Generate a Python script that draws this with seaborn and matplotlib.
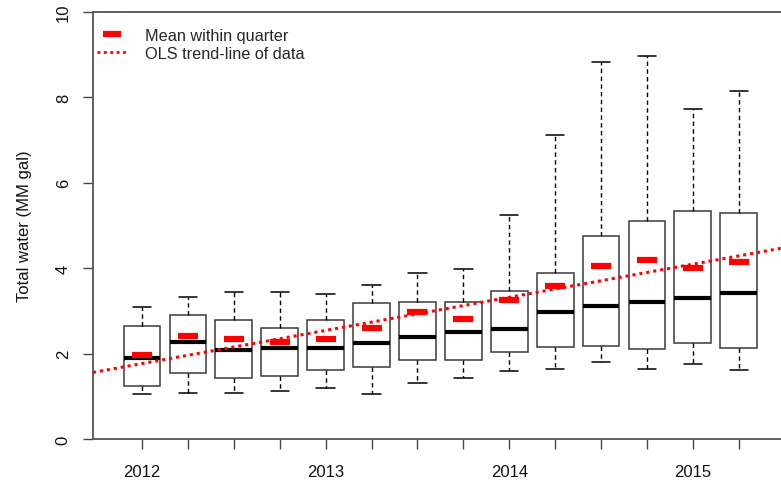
import matplotlib
matplotlib.use("Agg")
import matplotlib.pyplot as plt
from matplotlib.lines import Line2D
import numpy as np
import pandas as pd
import seaborn as sns

# Quarterly summary of total water use (MM gal)
quarters = ["2012Q1", "2012Q2", "2012Q3", "2012Q4",
            "2013Q1", "2013Q2", "2013Q3", "2013Q4",
            "2014Q1", "2014Q2", "2014Q3", "2014Q4",
            "2015Q1", "2015Q2"]
whisker_lo = [1.05, 1.08, 1.07, 1.13, 1.20, 1.05, 1.30, 1.43, 1.60, 1.64, 1.80, 1.64, 1.76, 1.62]
q1 = [1.23, 1.54, 1.43, 1.48, 1.62, 1.68, 1.85, 1.85, 2.03, 2.16, 2.17, 2.11, 2.25, 2.12]
median = [1.89, 2.28, 2.09, 2.12, 2.13, 2.24, 2.39, 2.50, 2.58, 2.98, 3.12, 3.22, 3.30, 3.42]
q3 = [2.64, 2.90, 2.79, 2.60, 2.79, 3.18, 3.22, 3.22, 3.47, 3.89, 4.75, 5.10, 5.34, 5.29]
whisker_hi = [3.10, 3.33, 3.45, 3.45, 3.40, 3.61, 3.89, 3.98, 5.25, 7.12, 8.84, 8.98, 7.74, 8.14]
means = [1.97, 2.42, 2.34, 2.26, 2.34, 2.59, 2.97, 2.81, 3.26, 3.59, 4.04, 4.20, 4.00, 4.15]

# OLS trend fitted over the quarter index (0 = 2012Q1)
ols_intercept = 1.766
ols_slope = 0.194

year_labels = {0: "2012", 4: "2013", 8: "2014", 12: "2015"}

sns.set_theme(style="white")
plt.rcParams["font.family"] = ["Liberation Sans", "DejaVu Sans"]

# Five-number summary per quarter as long-form data
rows = []
for i, q in enumerate(quarters):
    for v in (whisker_lo[i], q1[i], median[i], q3[i], whisker_hi[i]):
        rows.append({"quarter": q, "water": v})
df = pd.DataFrame(rows)

fig = plt.figure(figsize=(7.81, 4.85), dpi=100)
ax = fig.add_axes([93 / 781, 45 / 485, 688 / 781, 427 / 485])

edge = "#3a3a3a"
dotted = (0, (1.0, 1.3))
sns.boxplot(
    data=df, x="quarter", y="water", order=quarters, ax=ax,
    color="white", saturation=1, width=0.8, whis=(0, 100),
    linecolor=edge, linewidth=1.1, showfliers=False,
    whiskerprops=dict(linestyle=(0, (3.2, 2.4)), color="black", linewidth=1.0),
    capprops=dict(color="black", linewidth=1.1),
    medianprops=dict(color="black", linewidth=3.0),
    boxprops=dict(edgecolor=edge, linewidth=1.1),
)

sns.pointplot(
    x=quarters, y=means, order=quarters, ax=ax, color="red",
    marker="_", markersize=14, markeredgewidth=4.5,
    linestyle="none", errorbar=None, zorder=5,
)

ax.axline((0, ols_intercept), slope=ols_slope, color="red",
          linestyle=dotted, linewidth=2.2, zorder=4)

ax.set_xlim(-1.067, 13.92)
ax.set_ylim(0, 10)
ax.set_xlabel("")
ax.set_ylabel("Total water (MM gal)", fontsize=12, color="#111111", labelpad=17)

ax.set_xticks(range(len(quarters)))
ax.set_xticklabels([year_labels.get(i, "") for i in range(len(quarters))])
ax.set_yticks([0, 2, 4, 6, 8, 10])
ax.set_yticklabels(["0", "2", "4", "6", "8", "10"], rotation=90, va="center")

ax.tick_params(axis="both", which="both", direction="out", length=7, width=1.0,
               color="#444444", labelsize=12, labelcolor="#111111")
ax.tick_params(axis="x", pad=11, bottom=True)
ax.tick_params(axis="y", pad=9, left=True)

for side in ("left", "top", "bottom"):
    ax.spines[side].set_visible(True)
    ax.spines[side].set_color("#555555")
    ax.spines[side].set_linewidth(1.3)
ax.spines["right"].set_visible(False)

handles = [
    Line2D([0], [0], color="red", marker="_", markersize=13, markeredgewidth=4.5,
           linestyle="none"),
    Line2D([0], [0], color="red", linewidth=2, linestyle=dotted),
]
ax.legend(handles, ["Mean within quarter", "OLS trend-line of data"],
          loc="upper left", frameon=False, fontsize=11.7,
          handlelength=1.85, handletextpad=1.1, labelspacing=0.2,
          bbox_to_anchor=(-0.004, 0.978), borderaxespad=0.0)

fig.savefig("out.png", dpi=100)
